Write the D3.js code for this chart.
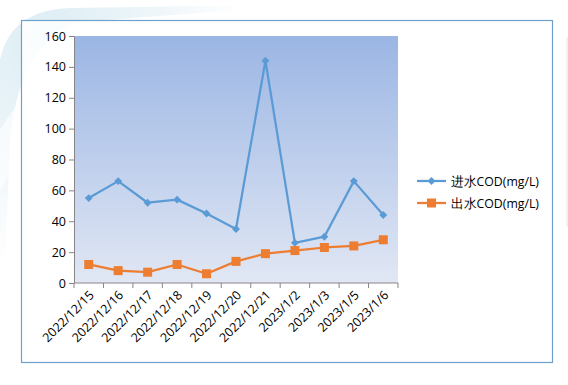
<!DOCTYPE html>
<html>
<head>
<meta charset="utf-8">
<script src="https://cdn.jsdelivr.net/npm/d3@7"></script>
<style>
  body { margin: 0; background: #fff; }
  svg { display: block; }
  text { font-family: "Open Sans", "Noto Sans", sans-serif; }
</style>
</head>
<body>
<script>
// data
const dates = ["2022/12/15", "2022/12/16", "2022/12/17", "2022/12/18", "2022/12/19",
               "2022/12/20", "2022/12/21", "2023/1/2", "2023/1/3", "2023/1/5", "2023/1/6"];
const inflow = [55, 66, 52, 54, 45, 35, 144, 26, 30, 66, 44];
const outflow = [12, 8, 7, 12, 6, 14, 19, 21, 23, 24, 28];
const seriesNames = ["进水COD(mg/L)", "出水COD(mg/L)"];
const yTicks = [0, 20, 40, 60, 80, 100, 120, 140, 160];

const width = 568, height = 385;
const plot = { left: 74, right: 398, top: 36, bottom: 283 };

const svg = d3.select("body").append("svg")
  .attr("width", width)
  .attr("height", height);

const defs = svg.append("defs");
const plotGrad = defs.append("linearGradient")
  .attr("id", "plotGrad").attr("x1", 0).attr("y1", 0).attr("x2", 0).attr("y2", 1);
plotGrad.append("stop").attr("offset", "0%").attr("stop-color", "#9bb6e4");
plotGrad.append("stop").attr("offset", "100%").attr("stop-color", "#e1e7f4");

const bgGrad = defs.append("radialGradient")
  .attr("id", "bgGrad").attr("cx", 0.15).attr("cy", 0.1).attr("r", 0.6);
bgGrad.append("stop").attr("offset", "0%").attr("stop-color", "#dcedf4");
bgGrad.append("stop").attr("offset", "60%").attr("stop-color", "#f0f7fa");
bgGrad.append("stop").attr("offset", "100%").attr("stop-color", "#ffffff");

// soft blue swirl in the page background, top-left
svg.append("path")
  .attr("d", "M0,385 L0,60 Q10,10 70,8 L330,4 Q300,14 240,10 L80,22 Q20,40 10,140 Z")
  .attr("fill", "url(#bgGrad)");
svg.append("path")
  .attr("d", "M0,130 Q40,60 130,40 Q60,80 0,190 Z")
  .attr("fill", "#ffffff").attr("opacity", 0.6);
svg.append("line")
  .attr("x1", 567).attr("x2", 567).attr("y1", 37).attr("y2", 227)
  .attr("stroke", "#e4e4e4");

// chart box
svg.append("rect")
  .attr("x", 21.5).attr("y", 20.5).attr("width", 531).attr("height", 342)
  .attr("fill", "#ffffff").attr("fill-opacity", 0.85)
  .attr("stroke", "#6d9fcf").attr("stroke-width", 1.2);

// plot area
svg.append("rect")
  .attr("x", plot.left).attr("y", plot.top)
  .attr("width", plot.right - plot.left).attr("height", plot.bottom - plot.top)
  .attr("fill", "url(#plotGrad)");

// scales
const xScale = d3.scaleBand()
  .domain(dates)
  .range([plot.left, plot.right]);

const yScale = d3.scaleLinear()
  .domain([0, 160])
  .range([plot.bottom, plot.top]);

// axes
const leftAxis = d3.axisLeft(yScale).tickValues(yTicks).tickSize(5).tickPadding(3).tickSizeOuter(0);
const gy = svg.append("g")
  .attr("transform", "translate(" + plot.left + ",0)")
  .call(leftAxis);
gy.selectAll("path, line").attr("stroke", "#868686");
gy.selectAll("text").attr("font-size", 12.5).attr("fill", "#000");

const gx = svg.append("g")
  .attr("transform", "translate(0," + plot.bottom + ")");
gx.append("line")
  .attr("x1", plot.left).attr("x2", plot.right)
  .attr("stroke", "#868686");
const bounds = dates.map(d => xScale(d)).concat([plot.right]);
gx.selectAll(".tk").data(bounds).enter().append("line")
  .attr("x1", d => d).attr("x2", d => d)
  .attr("y1", 0).attr("y2", 5)
  .attr("stroke", "#868686");
gx.selectAll(".lbl").data(dates).enter().append("text")
  .attr("transform", d => "translate(" + (xScale(d) + xScale.bandwidth() / 2 + 6) + ",13) rotate(-45)")
  .attr("text-anchor", "end")
  .attr("font-size", 12.5)
  .attr("fill", "#000")
  .text(d => d);

// lines
const cx = i => xScale(dates[i]) + xScale.bandwidth() / 2;
const line = d3.line()
  .x((d, i) => cx(i))
  .y(d => yScale(d));

svg.append("path")
  .datum(inflow)
  .attr("d", line)
  .attr("fill", "none")
  .attr("stroke", "#5b9bd5")
  .attr("stroke-width", 2.25)
  .attr("stroke-linejoin", "round");

svg.append("path")
  .datum(outflow)
  .attr("d", line)
  .attr("fill", "none")
  .attr("stroke", "#ed7d31")
  .attr("stroke-width", 2.25)
  .attr("stroke-linejoin", "round");

// markers
const diamond = d3.symbol().type(d3.symbolDiamond2).size(40);
svg.selectAll(".inpt").data(inflow).enter().append("path")
  .attr("d", diamond)
  .attr("transform", (d, i) => "translate(" + cx(i) + "," + yScale(d) + ")")
  .attr("fill", "#5b9bd5");

svg.selectAll(".outpt").data(outflow).enter().append("rect")
  .attr("x", (d, i) => cx(i) - 4.5)
  .attr("y", d => yScale(d) - 4.5)
  .attr("width", 9).attr("height", 9)
  .attr("fill", "#ed7d31");

// legend
const legend = svg.append("g");
const legendY = [181, 203];
const colors = ["#5b9bd5", "#ed7d31"];
seriesNames.forEach((name, i) => {
  legend.append("line")
    .attr("x1", 417).attr("x2", 446)
    .attr("y1", legendY[i]).attr("y2", legendY[i])
    .attr("stroke", colors[i]).attr("stroke-width", 2.25);
  if (i === 0) {
    legend.append("path")
      .attr("d", diamond)
      .attr("transform", "translate(431.5," + legendY[i] + ")")
      .attr("fill", colors[i]);
  } else {
    legend.append("rect")
      .attr("x", 427).attr("y", legendY[i] - 4.5)
      .attr("width", 9).attr("height", 9)
      .attr("fill", colors[i]);
  }
  legend.append("text")
    .attr("x", 451).attr("y", legendY[i] + 4.5)
    .attr("font-size", 12.5)
    .attr("font-family", "'Noto Sans CJK SC', 'Open Sans', sans-serif")
    .attr("textLength", 88)
    .attr("lengthAdjust", "spacingAndGlyphs")
    .attr("fill", "#000")
    .text(name);
});
</script>
</body>
</html>
